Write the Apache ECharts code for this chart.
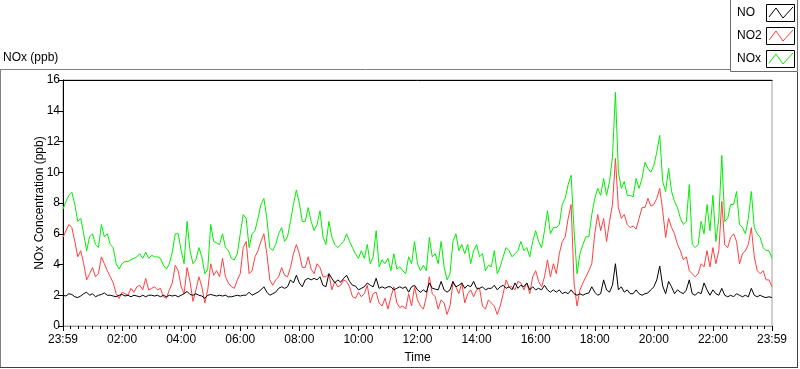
<!DOCTYPE html>
<html><head><meta charset="utf-8">
<script src="https://cdn.jsdelivr.net/npm/echarts@6/dist/echarts.min.js"></script>
<style>html,body{margin:0;padding:0;background:#fff}#c{width:800px;height:369px}</style>
</head><body><div id="c"></div>
<script>
// minutes after 23:59 of the previous day, one sample every 6 minutes
const stepMinutes = 6;
const xTickLabels = ['23:59','02:00','04:00','06:00','08:00','10:00','12:00','14:00','16:00','18:00','20:00','22:00','23:59'];
const seriesNames = ['NO','NO2','NOx'];
const titleText = 'NOx (ppb)';
const yAxisName = 'NOx Concentration (ppb)';
const xAxisName = 'Time';

const no = [
2.0,1.95,2.1,2.05,1.9,1.85,1.95,2.1,2.2,2.0,2.1,1.9,2.0,2.05,2.15,2.0,2.0,1.95,1.9,2.0,2.05,1.95,2.0,1.9,2.0,1.95,1.9,2.0,1.9,2.0,2.0,1.95,2.0,1.9,2.0,1.9,2.0,1.95,2.0,1.9,2.0,2.1,2.25,2.05,2.0,2.1,2.0,1.95,1.8,
2.0,2.05,2.0,1.95,2.0,1.95,2.0,1.9,1.9,1.95,2.0,1.95,2.0,2.0,2.2,2.0,2.1,2.2,2.35,2.55,2.2,2.0,2.1,2.2,2.45,2.55,2.45,2.55,3.0,2.8,3.3,2.8,2.55,3.0,3.1,3.0,3.1,3.0,3.2,2.65,2.55,3.4,3.1,2.8,3.0,2.85,3.1,3.3,
2.9,2.65,2.6,2.35,2.45,2.55,2.8,2.65,2.55,3.1,2.45,2.55,2.45,2.55,2.55,2.35,2.45,2.55,2.45,2.55,2.2,2.55,2.65,2.35,2.2,2.35,2.2,2.8,2.45,2.4,2.35,2.9,2.35,2.2,2.35,2.9,2.55,2.65,2.8,2.45,2.65,2.55,2.9,2.45,2.45,2.55,2.35,2.45,
2.45,2.65,2.35,2.55,2.65,2.45,2.55,2.35,2.8,2.45,2.65,2.55,2.8,2.35,2.55,2.35,2.45,2.35,2.65,2.35,2.2,2.35,2.2,2.35,2.1,2.2,2.1,2.35,2.1,2.0,2.1,2.0,2.1,2.15,2.55,2.2,2.0,2.1,3.0,2.35,2.2,2.65,4.05,2.35,2.55,2.2,2.35,2.1,
2.1,2.35,2.1,2.0,2.1,2.15,2.35,2.55,3.0,3.9,2.6,2.1,2.9,2.55,2.1,2.35,2.2,2.1,2.35,3.0,2.1,2.0,2.2,2.1,2.8,2.35,2.0,2.35,2.1,2.0,2.45,2.0,1.9,2.0,1.9,2.1,2.0,1.9,2.0,1.9,2.45,2.0,1.9,2.0,1.9,1.85,1.9,1.85
];
const no2 = [
5.76,6.2,6.6,6.4,5.5,4.5,4.9,4.05,3.0,3.4,3.8,3.2,3.4,4.5,4.05,3.6,3.2,2.8,2.1,1.8,2.2,2.1,2.0,2.45,2.2,2.55,2.65,2.35,3.1,2.35,2.45,2.55,2.35,2.45,1.9,1.8,2.35,2.8,3.95,3.6,2.55,2.1,3.8,2.9,1.6,2.35,3.2,2.55,1.5,
2.35,4.05,3.3,3.6,3.2,4.4,3.2,2.8,2.55,2.45,3.0,3.4,5.1,5.5,3.4,3.6,4.5,4.9,5.5,6.0,4.7,3.0,2.65,3.0,3.2,3.8,3.3,3.2,3.8,4.7,5.3,4.7,3.8,3.8,4.5,3.7,3.4,4.05,3.8,3.2,3.2,3.4,2.35,2.9,2.55,2.65,3.0,2.9,
2.55,1.9,1.8,2.2,1.9,2.1,2.65,1.5,2.1,2.2,1.5,1.3,1.8,1.1,1.9,2.55,1.5,1.2,1.3,1.1,2.1,1.3,2.55,1.7,1.3,1.1,1.9,3.2,2.1,1.9,1.1,1.7,1.5,0.75,1.3,2.8,2.55,2.1,2.8,1.5,2.1,2.35,1.9,2.35,2.45,1.3,1.1,1.7,
1.5,1.3,0.75,1.3,2.1,3.0,2.55,2.55,2.35,2.9,2.8,2.35,2.8,2.1,3.2,3.6,2.9,2.55,3.2,4.3,3.2,4.05,3.4,4.7,5.5,5.8,7.0,7.9,2.8,1.3,2.35,2.8,3.2,3.6,4.05,6.0,7.25,6.2,7.0,5.5,6.8,7.9,10.9,7.7,7.0,7.25,6.6,6.4,
6.5,6.3,7.0,7.7,7.7,8.3,7.8,7.9,8.3,8.95,7.5,5.76,7.0,6.4,6.0,5.3,4.9,4.3,4.5,3.6,3.4,3.2,3.4,4.05,3.85,4.9,3.85,5.1,4.05,4.9,8.1,5.3,5.1,5.76,6.0,5.5,4.05,4.7,4.9,5.3,6.4,4.5,3.6,3.4,3.6,3.0,3.0,2.55
];
const nox = [
7.6,8.1,8.5,8.7,7.9,6.8,7.0,6.0,4.9,5.8,6.0,5.3,5.1,6.6,5.8,6.0,5.3,5.1,4.05,3.7,4.05,4.2,4.2,4.3,4.4,4.5,4.7,4.4,4.8,4.4,4.6,4.5,4.5,4.4,3.95,3.7,4.05,4.8,6.0,6.0,4.9,4.05,6.8,4.9,4.05,4.3,5.1,4.5,3.4,
3.7,6.6,5.5,5.4,5.3,6.0,5.1,4.9,4.4,4.3,4.7,6.0,7.25,7.0,5.1,6.0,6.2,7.0,7.9,8.3,7.0,5.1,4.9,5.3,6.0,6.4,5.5,5.8,6.8,7.9,8.85,8.0,6.8,6.8,7.7,6.8,6.2,6.6,7.5,5.8,5.3,6.8,5.8,5.3,5.1,5.3,5.5,6.0,
5.5,5.1,4.7,4.4,4.9,4.4,5.3,4.05,4.5,6.2,3.85,4.3,4.05,4.4,3.6,4.7,3.7,3.85,3.6,3.4,4.5,4.05,5.5,4.05,3.6,3.95,3.6,5.76,4.5,4.7,4.05,5.5,3.85,3.0,3.4,5.5,6.0,4.9,5.3,4.7,5.3,4.05,4.9,5.3,4.5,4.7,3.6,3.95,
3.85,4.9,3.4,3.85,4.5,5.1,4.9,4.5,4.7,4.9,5.5,4.9,5.1,4.5,5.5,6.2,5.5,5.1,6.2,7.5,6.0,6.4,6.4,6.6,7.9,8.3,9.2,9.8,6.2,3.4,4.7,5.3,5.8,5.8,7.25,8.3,8.95,8.5,9.6,8.5,9.4,11.0,15.2,10.0,8.95,9.4,8.5,8.5,
8.4,9.6,8.95,9.6,10.65,10.25,10.0,10.45,11.3,12.4,9.4,8.75,10.25,8.75,8.1,7.7,7.0,6.6,6.8,9.2,5.3,5.1,5.3,6.8,6.0,7.9,6.2,8.5,5.5,7.0,11.1,6.8,7.0,7.9,7.9,8.75,6.6,6.4,6.0,7.0,8.75,6.4,6.0,5.76,5.1,4.9,4.9,4.4
];
const colors = {NO:'#000000', NO2:'#ff4040', NOx:'#00f000'};

const toPairs = arr => arr.map((v, i) => [i * stepMinutes, v]);
const FONT = 'Liberation Sans';
const chart = echarts.init(document.getElementById('c'), null, {renderer:'canvas'});

function zig(x, y, color) {
  return {type:'polyline', z:20, shape:{points:[[x+2,y+13],[x+9,y+4],[x+16,y+14],[x+26,y+3]]},
    style:{stroke:color, lineWidth:1, fill:null}};
}
const legendTop = [4, 27, 50];
const legendGraphics = [
  {type:'rect', z:10, shape:{x:730.5, y:-0.5, width:67, height:72}, style:{fill:'#fff', stroke:'#6e6e6e', lineWidth:1}}
];
seriesNames.forEach((n, k) => {
  const y = legendTop[k];
  legendGraphics.push({type:'text', z:20, x:737, y:y+9, style:{text:n, font:'12px "'+FONT+'"', fill:'#000', verticalAlign:'middle'}});
  legendGraphics.push({type:'rect', z:20, shape:{x:766.5, y:y+0.5, width:28, height:17}, style:{fill:'#fff', stroke:'#000', lineWidth:1}});
  legendGraphics.push(zig(767, y, colors[n]));
});

const option = {
  animation:false,
  backgroundColor:'#fff',
  textStyle:{fontFamily:FONT},
  title:{text:titleText, left:3, top:52, textStyle:{fontSize:12, fontWeight:'normal', color:'#000', fontFamily:FONT}, padding:0},
  grid:{left:63, top:80, right:28, bottom:39, show:true, borderColor:'#a0a0a0', borderWidth:1, backgroundColor:'#fff'},
  xAxis:[{
    type:'value', min:0, max:1440, interval:120,
    name:xAxisName, nameLocation:'middle', nameGap:26, nameMoveOverlap:false,
    nameTextStyle:{fontSize:12, color:'#000', fontFamily:FONT},
    axisLine:{show:true, lineStyle:{color:'#a0a0a0'}},
    axisTick:{show:true, length:5, lineStyle:{color:'#000'}},
    minorTick:{show:true, splitNumber:8, length:3, lineStyle:{color:'#000'}},
    splitLine:{show:false},
    axisLabel:{fontSize:12, color:'#000', margin:8, showMinLabel:true, showMaxLabel:true,
      formatter:v => xTickLabels[Math.round(v/120)]}
  },{
    type:'value', min:0, max:1440, position:'top',
    axisLine:{show:true, lineStyle:{color:'#000'}}, axisTick:{show:false}, axisLabel:{show:false}, splitLine:{show:false}
  }],
  yAxis:{
    type:'value', min:0, max:16, interval:2,
    name:yAxisName, nameLocation:'middle', nameGap:17, nameMoveOverlap:false,
    nameTextStyle:{fontSize:12, color:'#000', fontFamily:FONT},
    axisLine:{show:true, lineStyle:{color:'#000'}},
    axisTick:{show:true, length:5, lineStyle:{color:'#000'}},
    splitLine:{show:false},
    axisLabel:{fontSize:12, color:'#000', margin:3}
  },
  graphic:[
    {type:'line', z:5, shape:{x1:0, y1:69.5, x2:731, y2:69.5}, style:{stroke:'#808080', lineWidth:1}},
    {type:'line', z:5, shape:{x1:0.5, y1:69, x2:0.5, y2:368}, style:{stroke:'#808080', lineWidth:1}},
    {type:'line', z:5, shape:{x1:0, y1:367.5, x2:798, y2:367.5}, style:{stroke:'#404040', lineWidth:1}},
    {type:'line', z:5, shape:{x1:797.5, y1:72, x2:797.5, y2:368}, style:{stroke:'#404040', lineWidth:1}}
  ].concat(legendGraphics),
  series:[
    {name:'NOx', type:'line', xAxisIndex:0, data:toPairs(nox), showSymbol:false, lineStyle:{width:1, color:colors.NOx}, itemStyle:{color:colors.NOx}},
    {name:'NO2', type:'line', xAxisIndex:0, data:toPairs(no2), showSymbol:false, lineStyle:{width:1, color:colors.NO2}, itemStyle:{color:colors.NO2}},
    {name:'NO', type:'line', xAxisIndex:0, data:toPairs(no), showSymbol:false, lineStyle:{width:1, color:colors.NO}, itemStyle:{color:colors.NO}}
  ]
};
chart.setOption(option);
</script></body></html>
